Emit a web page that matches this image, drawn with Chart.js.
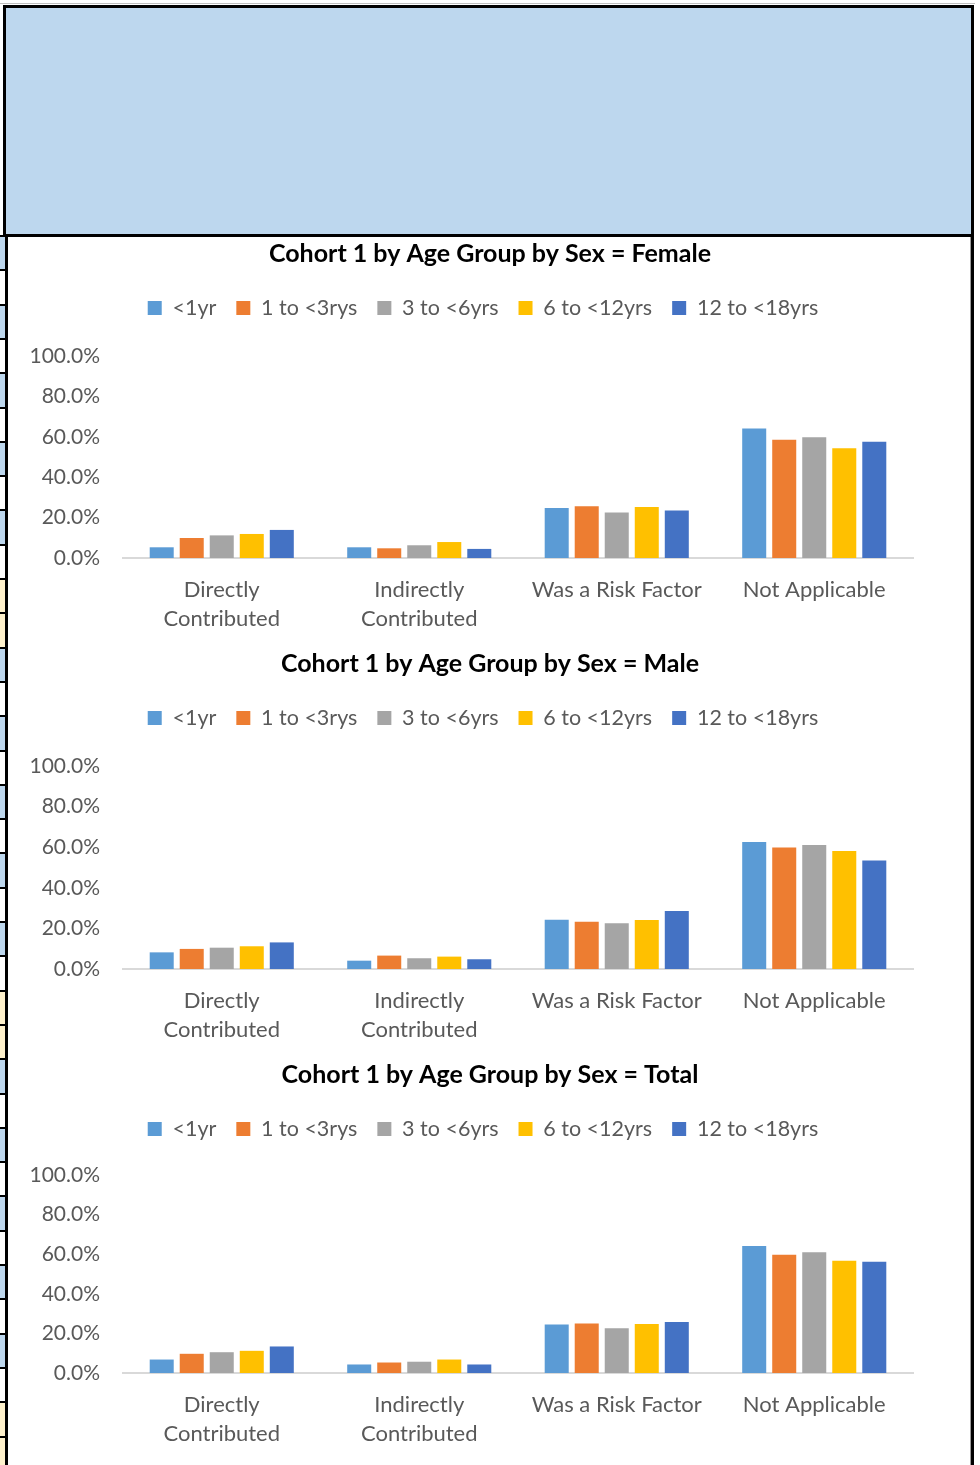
<!DOCTYPE html>
<html>
<head>
<meta charset="utf-8">
<script src="https://cdn.jsdelivr.net/npm/chart.js@4.4.0/dist/chart.umd.min.js"></script>
<style>
  html, body { margin: 0; padding: 0; background: #fff; }
  body { width: 980px; height: 1465px; position: relative; overflow: hidden; }
  .abs { position: absolute; }
  #topline { left: 0; top: 3px; width: 975px; height: 1px; background: #bfbfbf; }
  #header { left: 3px; top: 5px; width: 965px; height: 226px; background: #bdd7ee; border: 3px solid #000; }
  #rightBorder { left: 971px; top: 237px; width: 3px; height: 1228px; background: #000; }
  #rightShade { left: 970px; top: 237px; width: 1px; height: 1228px; background: #9a9a9a; }
  #leftBorder { left: 5px; top: 237px; width: 3px; height: 1228px; background: #000; }
  canvas { position: absolute; left: 8px; }
</style>
</head>
<body>
<div id="topline" class="abs"></div>
<div id="header" class="abs"></div>
<div id="cells"></div>
<div id="leftBorder" class="abs"></div>
<div id="rightShade" class="abs"></div>
<div id="rightBorder" class="abs"></div>

<canvas id="chartFemale" width="962" height="410" style="top:237px"></canvas>
<canvas id="chartMale" width="962" height="411" style="top:647px"></canvas>
<canvas id="chartTotal" width="962" height="407" style="top:1058px"></canvas>

<script>
// categorias y grupos de edad
const categories = [['Directly', 'Contributed'], ['Indirectly', 'Contributed'], 'Was a Risk Factor', 'Not Applicable']
const ageGroups = ['<1yr', '1 to <3rys', '3 to <6yrs', '6 to <12yrs', '12 to <18yrs']
const yTickValues = [0, 20, 40, 60, 80, 100]

// Female (%), one list per age group, in category order
const femaleLt1 = [5.3, 5.3, 24.8, 64.1]
const female1to3 = [9.9, 4.8, 25.6, 58.6]
const female3to6 = [11.2, 6.3, 22.5, 59.8]
const female6to12 = [11.9, 7.9, 25.2, 54.3]
const female12to18 = [13.9, 4.5, 23.5, 57.6]

// Male (%)
const maleLt1 = [8.2, 4.1, 24.3, 62.6]
const male1to3 = [9.9, 6.6, 23.3, 59.9]
const male3to6 = [10.5, 5.3, 22.5, 61.1]
const male6to12 = [11.2, 6.1, 24.1, 58.1]
const male12to18 = [13.1, 4.8, 28.6, 53.5]

// Total (%)
const totalLt1 = [6.8, 4.3, 24.5, 64.2]
const total1to3 = [9.7, 5.3, 25.0, 59.7]
const total3to6 = [10.5, 5.7, 22.6, 61.0]
const total6to12 = [11.2, 6.8, 24.8, 56.7]
const total12to18 = [13.4, 4.3, 25.8, 56.2]

const seriesColors = ['#5b9bd5', '#ed7d31', '#a5a5a5', '#ffc000', '#4472c4']
const FONT = 'Lato'
const TEXT = '#595959'

// celdas de la hoja a la izquierda
const cellColors = ['#bdd7ee', '#fff', '#bdd7ee', '#fff', '#bdd7ee', '#fff', '#bdd7ee', '#fff', '#bdd7ee', '#fff', '#fff2cc', '#fff2cc']
const cells = document.getElementById('cells')
for (let k = 0; k < 37; k++) {
  const top = 236 + k * 34.3
  const c = document.createElement('div')
  c.className = 'abs'
  c.style.cssText = `left:0;top:${top}px;width:5px;height:35px;background:${cellColors[k % 12]}`
  cells.appendChild(c)
  const l = document.createElement('div')
  l.className = 'abs'
  l.style.cssText = `left:0;top:${top - 1}px;width:6px;height:2px;background:#000`
  cells.appendChild(l)
}

// espacio extra debajo de la leyenda + centrado de titulo/leyenda
function boxTweaks(extra) {
  return {
    id: 'boxTweaks',
    beforeInit(chart) {
      const fit = chart.legend.fit
      chart.legend.fit = function () {
        fit.bind(chart.legend)()
        this.height += extra
      }
    },
    afterLayout(chart) {
      chart.titleBlock.left = 0
      chart.titleBlock.right = 964
      chart.legend.left = 0
      chart.legend.right = 950
    },
  }
}

function chartRender(id, title, values, frame) {
  const ctx = document.getElementById(id).getContext('2d')
  return new Chart(ctx, {
    type: 'bar',
    data: {
      labels: categories,
      datasets: ageGroups.map((name, i) => ({
        label: name,
        data: values[i],
        backgroundColor: seriesColors[i],
        borderWidth: 0,
        categoryPercentage: 0.76,
        barPercentage: 0.8,
      })),
    },
    options: {
      responsive: false,
      animation: false,
      layout: { padding: { top: 0, left: 0, right: 57, bottom: 0 } },
      plugins: {
        title: {
          display: true,
          text: title,
          color: '#000',
          font: { family: FONT, size: 25, weight: 'bold', lineHeight: 1.2 },
          padding: { top: 2, bottom: 8.25 },
        },
        legend: {
          labels: {
            boxWidth: 14,
            boxHeight: 14,
            padding: 20,
            color: TEXT,
            font: { family: FONT, size: 21.5 },
          },
        },
        tooltip: { enabled: false },
      },
      scales: {
        x: {
          grid: { display: false, drawTicks: false },
          border: { color: '#d9d9d9', width: 2 },
          ticks: {
            color: TEXT,
            font: { family: FONT, size: 22, lineHeight: 1.318 },
            padding: 17.5,
            maxRotation: 0,
            autoSkip: false,
          },
          afterFit(s) { s.height = frame.xHeight },
        },
        y: {
          min: 0,
          max: 100,
          grid: { display: false, drawTicks: false },
          border: { display: false },
          afterBuildTicks(s) { s.ticks = yTickValues.map(v => ({ value: v })) },
          ticks: {
            color: TEXT,
            font: { family: FONT, size: 21 },
            padding: 23,
            callback: v => v.toFixed(1) + '%',
          },
          afterFit(s) { s.width = 115 },
        },
      },
    },
    plugins: [boxTweaks(frame.legendExtra)],
  })
}

chartRender('chartFemale', 'Cohort 1 by Age Group by Sex = Female',
  [femaleLt1, female1to3, female3to6, female6to12, female12to18], { xHeight: 89, legendExtra: 27.25 })
chartRender('chartMale', 'Cohort 1 by Age Group by Sex = Male',
  [maleLt1, male1to3, male3to6, male6to12, male12to18], { xHeight: 89, legendExtra: 27.25 })
chartRender('chartTotal', 'Cohort 1 by Age Group by Sex = Total',
  [totalLt1, total1to3, total3to6, total6to12, total12to18], { xHeight: 92, legendExtra: 25.25 })
</script>
</body>
</html>
